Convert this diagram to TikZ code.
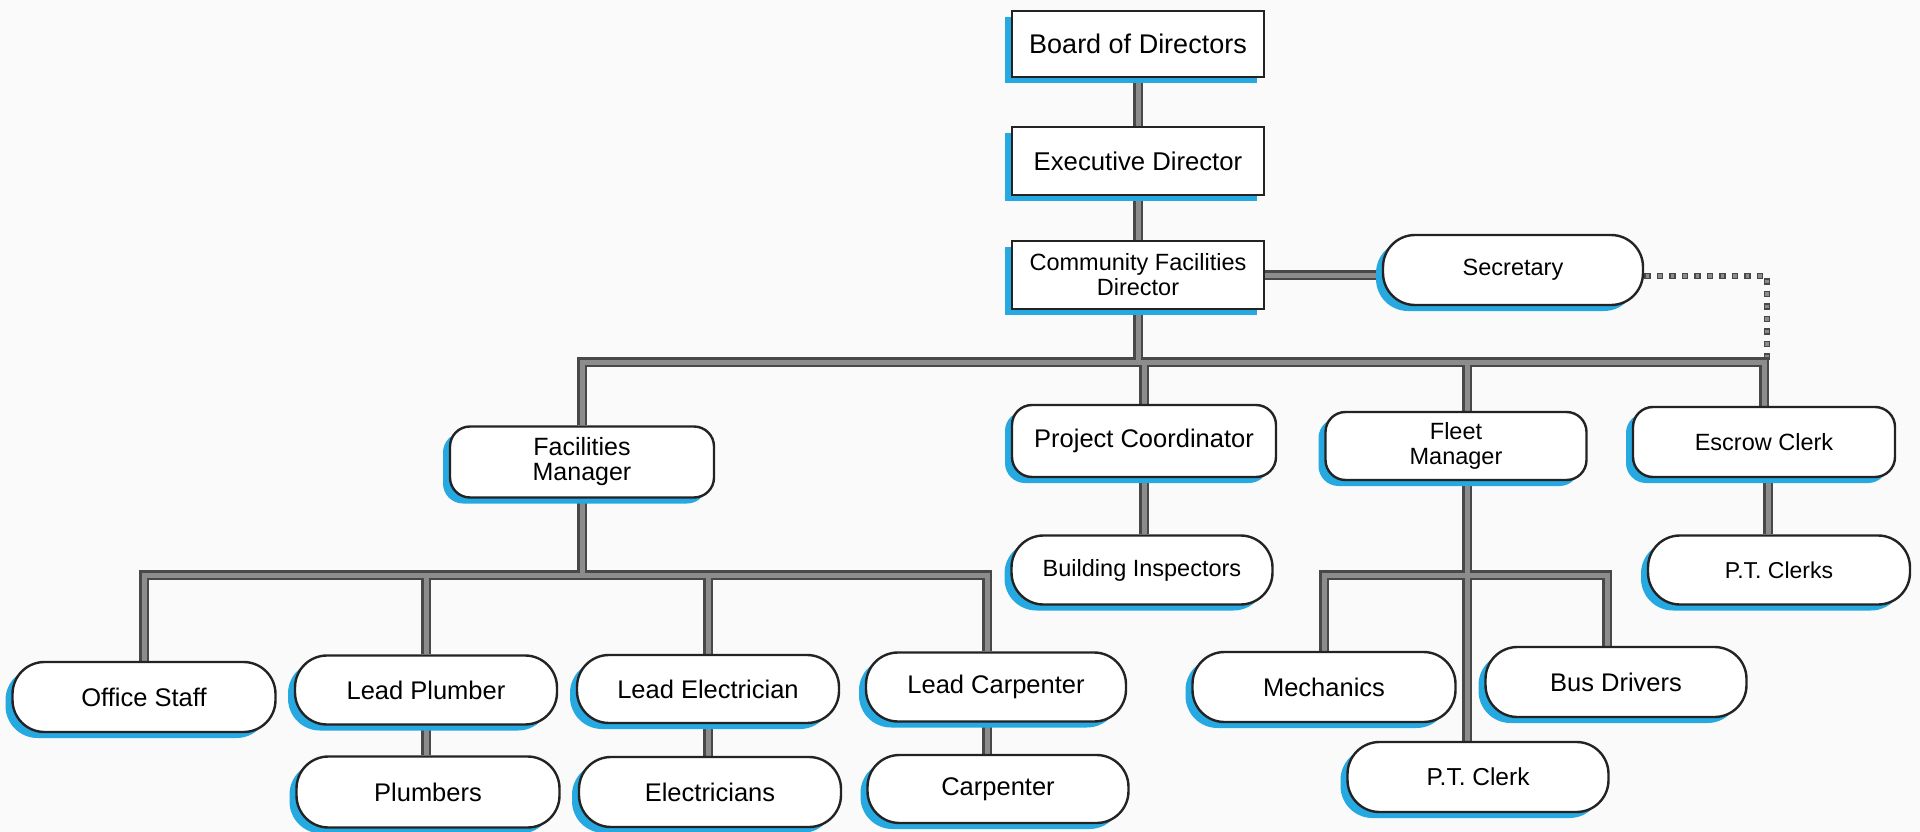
\documentclass[tikz,border=0pt]{standalone}
\usepackage{fontspec}
\setmainfont{Liberation Sans}
\usetikzlibrary{shadows,backgrounds}
\definecolor{shadowblue}{RGB}{38,168,224}
\definecolor{linedark}{RGB}{72,72,72}
\definecolor{linelight}{RGB}{140,140,140}
\definecolor{boxline}{RGB}{35,35,35}
\definecolor{paper}{RGB}{250,250,250}
\newcommand{\drawwires}[1]{%
  \draw[#1] (bod.south) -- (bod.south |- exd.north);
  \draw[#1] (exd.south) -- (exd.south |- cfd.north);
  \draw[#1] (cfd.east) -- (cfd.east -| sec.center);
  \draw[#1] (cfd.south) -- (cfd.south |- mainbar);
  \draw[#1] (fm.north) |- (ec.north |- mainbar) -- (ec.north);
  \draw[#1] (pc.north) -- (pc.north |- mainbar);
  \draw[#1] ([xshift=11pt]flm.north) -- ([xshift=11pt]flm.north |- mainbar);
  \draw[#1] (pc.south) -- (pc.south |- bi.north);
  \draw[#1] ([xshift=4pt]ec.south) -- ([xshift=4pt]ec.south |- ptcs.north);
  \draw[#1] (fm.south) -- (fm.south |- fmbar);
  \draw[#1] (os.north) |- ([xshift=-9pt]lc.north |- fmbar) -- ([xshift=-9pt]lc.north);
  \draw[#1] (lp.north) -- (lp.north |- fmbar);
  \draw[#1] (le.north) -- (le.north |- fmbar);
  \draw[#1] (lp.south) -- (lp.south |- plb.north);
  \draw[#1] (le.south) -- (le.south |- ele.north);
  \draw[#1] ([xshift=-9pt]lc.south) -- ([xshift=-9pt]lc.south |- car.north);
  \draw[#1] ([xshift=11pt]flm.south) -- ([xshift=11pt]flm.south |- ptc.north);
  \draw[#1] (mec.north) |- ([xshift=-9pt]bus.north |- flbar) -- ([xshift=-9pt]bus.north);
}
\newcommand{\drawdots}[1]{%
  \draw[#1] ([yshift=-6pt]sec.east) -| ([xshift=3pt]ec.north |- mainbar);
}
\begin{document}
\begin{tikzpicture}[x=1pt,y=-1pt,
  orgbox/.style={draw=boxline, line width=2.4pt, fill=white, inner sep=0pt, align=center,
     general shadow={shadow xshift=-7pt, shadow yshift=-6pt, fill=shadowblue}},
  sqbox/.style={orgbox},
  rndbox/.style={orgbox, rounded corners=20pt},
  pillbox/.style={orgbox, rounded corners=32pt},
  wh/.style 2 args={minimum width=#1pt, minimum height=#2pt},
  fbig/.style={font=\fontsize{25.5}{25}\selectfont},
  fsmall/.style={font=\fontsize{23.5}{25}\selectfont},
  wireouter/.style={draw=linedark, line width=9.5pt},
  wireinner/.style={draw=linelight, line width=5pt},
  dotouter/.style={draw=linedark, line width=6.5pt, dash pattern=on 6.5pt off 6pt},
  dotinner/.style={draw=linelight, line width=3.5pt, dash pattern=on 3.5pt off 9pt, dash phase=11pt}
]
\useasboundingbox (0,0) rectangle (1920,832);

\coordinate (mainbar) at (0,362);
\coordinate (fmbar) at (0,575);
\coordinate (flbar) at (0,575);

\node[sqbox, wh={252}{66}, font=\fontsize{27}{27}\selectfont] (bod) at (1138,44) {Board of Directors};
\node[sqbox, wh={252}{68}, font=\fontsize{25.7}{26}\selectfont] (exd) at (1138,161) {Executive Director};
\node[sqbox, wh={252}{68}, fsmall] (cfd) at (1138,275) {Community Facilities\\Director};
\node[pillbox, wh={260}{70}, fsmall] (sec) at (1513,270) {Secretary};

\node[rndbox, wh={264}{71}, font=\fontsize{25}{25}\selectfont] (fm) at (582,462) {Facilities\\Manager};
\node[rndbox, wh={264}{72}, fbig] (pc) at (1144,441) {Project Coordinator};
\node[rndbox, wh={261}{68}, fsmall] (flm) at (1456,446) {Fleet\\Manager};
\node[rndbox, wh={262}{70}, fsmall] (ec) at (1764,442) {Escrow Clerk};

\node[pillbox, wh={261}{69}, fsmall] (bi) at (1142,570) {Building Inspectors};
\node[pillbox, wh={262}{69}, font=\fontsize{23}{25}\selectfont] (ptcs) at (1779,570) {P.T. Clerks};

\node[pillbox, wh={263}{70}, fbig] (mec) at (1324,687) {Mechanics};
\node[pillbox, wh={261}{70}, fbig] (bus) at (1616,682) {Bus Drivers};
\node[pillbox, wh={261}{70}, font=\fontsize{24.5}{25}\selectfont] (ptc) at (1478,777) {P.T. Clerk};

\node[pillbox, wh={263}{70}, fbig] (os) at (144,697) {Office Staff};
\node[pillbox, wh={262}{69}, fbig] (lp) at (426,690) {Lead Plumber};
\node[pillbox, wh={263}{71}, fbig] (plb) at (428,792) {Plumbers};
\node[pillbox, wh={262}{68}, fbig] (le) at (708,689) {Lead Electrician};
\node[pillbox, wh={262}{70}, fbig] (ele) at (710,792) {Electricians};
\node[pillbox, wh={260}{69}, fbig] (lc) at (996,687) {Lead Carpenter};
\node[pillbox, wh={261}{68}, fbig] (car) at (998,789) {Carpenter};

\begin{pgfonlayer}{background}
  \fill[paper] (0,0) rectangle (1920,832);
  \drawdots{dotouter}
  \drawdots{dotinner}
  \drawwires{wireouter}
  \drawwires{wireinner}
\end{pgfonlayer}
\end{tikzpicture}
\end{document}
